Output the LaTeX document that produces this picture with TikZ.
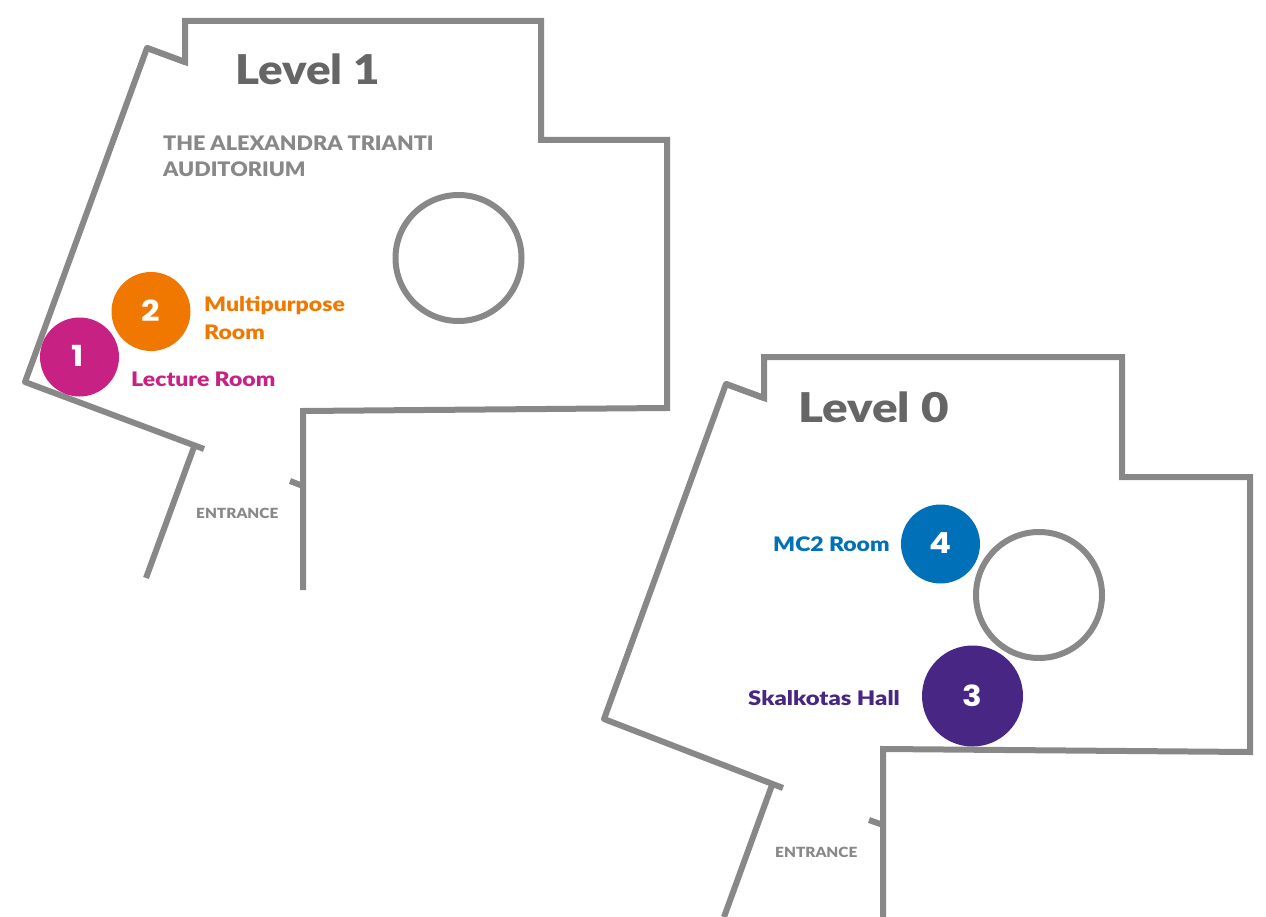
\documentclass[tikz,border=0pt]{standalone}
\usepackage{fontspec}
\setmainfont{Lato}
\newfontfamily\numfont{Poppins}[BoldFeatures={FakeStretch=1.12}]
\newfontfamily\labfont{Lato Black}[FakeStretch=1.15]
\newfontfamily\skalfont{Lato Black}[FakeStretch=1.19]
\newfontfamily\lvlfont{Lato Black}[FakeStretch=1.115]
\newfontfamily\lvlzfont{Lato Black}[FakeStretch=1.16]
\newfontfamily\audfont{Lato Black}[FakeStretch=1.08]
\newfontfamily\entfont{Lato Black}[FakeStretch=1.10]
\newcommand{\digit}[1]{\raisebox{2pt}{#1}}
\definecolor{wall}{HTML}{888888}
\definecolor{lvl}{HTML}{666666}
\definecolor{cmag}{HTML}{C72283}
\definecolor{cora}{HTML}{F07800}
\definecolor{cblu}{HTML}{0070B8}
\definecolor{cpur}{HTML}{482683}
\tikzset{
 x=1pt,y=-1pt,
 wallline/.style={draw=wall,line width=6pt,line join=miter},
 wallround/.style={wallline,line join=round},
 pillar/.style={circle,draw=wall,line width=6pt,fill=none,inner sep=0pt},
 badge/.style={circle,inner sep=0pt,text=white,font=\numfont\bfseries\fontsize{29}{29}\selectfont},
 lab/.style={inner sep=0pt,anchor=west,font=\labfont\fontsize{20}{28}\selectfont,align=left},
 level/.style={inner sep=0pt,anchor=west,text=lvl,font=\lvlfont\fontsize{41}{41}\selectfont},
 entr/.style={inner sep=0pt,anchor=west,text=wall,font=\entfont\fontsize{14}{14}\selectfont},
 aud/.style={inner sep=0pt,anchor=west,text=wall,font=\audfont\fontsize{20}{26}\selectfont,align=left},
}
\begin{document}
\begin{tikzpicture}
\useasboundingbox (0,0) rectangle (1266,917);
% Level 1
\coordinate (a0) at (146,578);\coordinate (a1) at (194,447);
\coordinate (b0) at (204,449);\coordinate (b1) at (25,382);\coordinate (b2) at (147,48);\coordinate (b3) at (185,62);\coordinate (b4) at (185,21);\coordinate (b5) at (541,21);\coordinate (b6) at (541,140);\coordinate (b7) at (667,140);\coordinate (b8) at (667,408);\coordinate (b9) at (303,411);\coordinate (b10) at (303,590);
\coordinate (t0) at (290,481);\coordinate (t1) at (303,486);
\draw[wallline] (a0)--(a1);
\draw[wallround] (b0)--(b1)--(b2)--(b3);
\draw[wallline] (b2)--(b3)--(b4)--(b5)--(b6)--(b7)--(b8)--(b9)--(b10);
\draw[wallline] (t0)--(t1);
\node[pillar,minimum size=126pt] (p1) at (458.5,258) {};
\node[badge,fill=cora,minimum size=79pt] (n2) at (151,311.5) {\digit{2}};
\node[badge,fill=cmag,minimum size=79pt] (n1) at (79.5,357) {\hspace{-3pt}\digit{1}};
\node[level] (l1) at (235,69) {Level 1};
\node[aud] (au) at (163,156.5) {THE ALEXANDRA TRIANTI\\AUDITORIUM};
\node[lab,text=cora] (mp) at (204,318) {Multipurpose\\Room};
\node[lab,text=cmag] (lr) at (131,379) {Lecture Room};
\node[entr] (e1) at (196,513) {ENTRANCE};
% Level 0
\coordinate (c0) at (724,917);\coordinate (c1) at (772,785);
\coordinate (d0) at (783,788);\coordinate (d1) at (604,719);\coordinate (d2) at (726,384);\coordinate (d3) at (764,398);\coordinate (d4) at (764,357);\coordinate (d5) at (1122,357);\coordinate (d6) at (1122,477);\coordinate (d7) at (1250,477);\coordinate (d8) at (1250,752);\coordinate (d9) at (883,749);\coordinate (d10) at (883,917);
\coordinate (u0) at (869,820);\coordinate (u1) at (883,825);
\draw[wallline] (c0)--(c1);
\draw[wallround] (d0)--(d1)--(d2)--(d3);
\draw[wallline] (d2)--(d3)--(d4)--(d5)--(d6)--(d7)--(d8)--(d9)--(d10);
\draw[wallline] (u0)--(u1);
\node[pillar,minimum size=126pt] (p0) at (1039,595) {};
\node[badge,fill=cblu,minimum size=79pt] (n4) at (940.5,544) {\digit{4}};
\node[badge,fill=cpur,minimum size=101pt] (n3) at (972.5,696) {3};
\node[level,font=\lvlzfont\fontsize{41}{41}\selectfont] (l0) at (798,407) {Level 0};
\node[lab,text=cblu] (mc) at (773,544) {MC2 Room};
\node[lab,text=cpur,font=\skalfont\fontsize{20}{28}\selectfont] (sk) at (748,698) {Skalkotas Hall};
\node[entr] (e0) at (775,852) {ENTRANCE};
\end{tikzpicture}
\end{document}
